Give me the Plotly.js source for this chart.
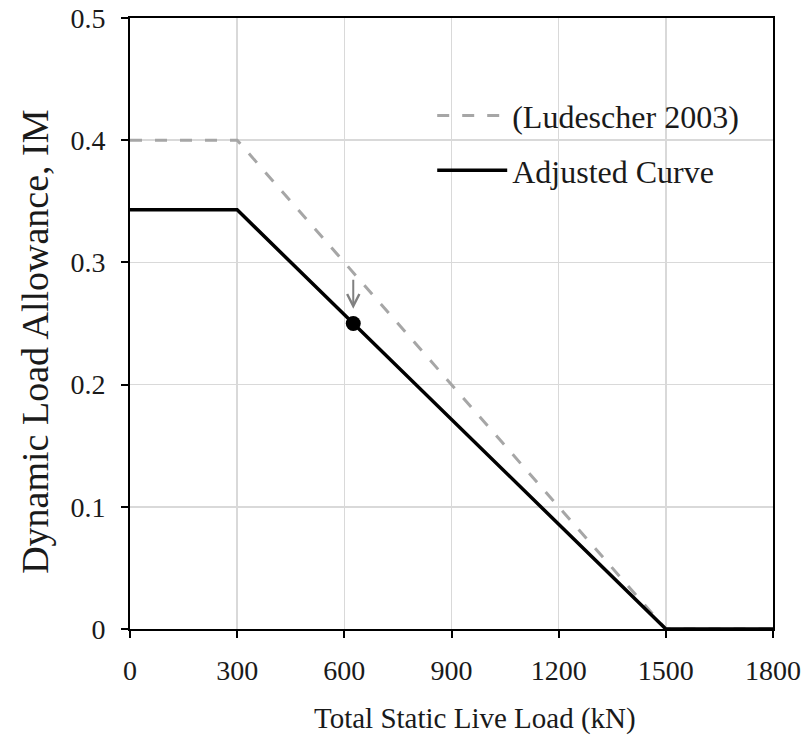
<!DOCTYPE html>
<html>
<head>
<meta charset="utf-8">
<script src="https://cdn.plot.ly/plotly-3.0.1.min.js"></script>
<style>html,body{margin:0;padding:0;background:#fff;}#chart{width:808px;height:738px;}</style>
</head>
<body>
<div id="chart"></div>
<script>
// Data
const ludescherX = [0, 300, 1500, 1800];
const ludescherY = [0.4, 0.4, 0, 0];
const adjustedX = [0, 300, 1500, 1800];
const adjustedY = [0.343, 0.343, 0, 0];
const pointX = [625];
const pointY = [0.25];
const arrowFromY = 0.287;
const arrowToY = 0.262;
const xTicks = [0, 300, 600, 900, 1200, 1500, 1800];
const yTicks = [0, 0.1, 0.2, 0.3, 0.4, 0.5];
const yTickLabels = ['0', '0.1', '0.2', '0.3', '0.4', '0.5'];
const xTitle = 'Total Static Live Load (kN)';
const yTitle = 'Dynamic Load Allowance, IM';

const font = 'Liberation Serif, Times New Roman, serif';

const traces = [
  {x: ludescherX, y: ludescherY, mode: 'lines', name: '(Ludescher 2003)', legendgroup: 'a',
   line: {color: '#a6a6a6', width: 3, dash: '12px,13px'}},
  {x: adjustedX, y: adjustedY, mode: 'lines', name: 'Adjusted Curve', legendgroup: 'b',
   line: {color: '#000000', width: 3.5}},
  {x: pointX, y: pointY, mode: 'markers', showlegend: false,
   marker: {color: '#000000', size: 15}}
];

const layout = {
  width: 808, height: 738,
  margin: {l: 130, r: 35, t: 18, b: 109},
  paper_bgcolor: '#fff', plot_bgcolor: '#fff',
  font: {family: font, color: '#1a1a1a', size: 28},
  showlegend: true,
  legend: {x: 0.47, y: 0.885, xanchor: 'left', yanchor: 'top',
    font: {family: font, size: 32, color: '#1a1a1a'}, bgcolor: 'rgba(0,0,0,0)',
    tracegroupgap: 10, itemwidth: 70},
  xaxis: {range: [0, 1800], tickvals: xTicks, ticktext: xTicks.map(String),
    showgrid: true, gridcolor: '#d9d9d9', gridwidth: 1.5,
    showline: true, linecolor: '#000', linewidth: 2, mirror: true,
    ticks: 'outside', ticklen: 7, tickwidth: 2, tickcolor: '#000',
    ticklabelstandoff: 8,
    zeroline: false, tickfont: {size: 28, family: font}},
  yaxis: {range: [0, 0.5], tickvals: yTicks, ticktext: yTickLabels,
    showgrid: true, gridcolor: '#d9d9d9', gridwidth: 1.5,
    showline: true, linecolor: '#000', linewidth: 2, mirror: true,
    ticks: 'outside', ticklen: 7, tickwidth: 2, tickcolor: '#000',
    ticklabelstandoff: 10,
    zeroline: false, tickfont: {size: 28, family: font}},
  annotations: [
    {x: pointX[0], y: arrowToY, ax: pointX[0], ay: arrowFromY,
     xref: 'x', yref: 'y', axref: 'x', ayref: 'y',
     showarrow: true, arrowhead: 5, arrowsize: 1.2, arrowwidth: 2, arrowcolor: '#808080', text: ''},
    {text: xTitle, xref: 'paper', yref: 'paper', x: 0.5365, y: 0, xanchor: 'center', yanchor: 'middle',
     yshift: -89, showarrow: false, font: {size: 29, family: font, color: '#1a1a1a'}},
    {text: yTitle, xref: 'paper', yref: 'paper', x: 0, y: 0.47, xanchor: 'center', yanchor: 'middle',
     xshift: -95, textangle: -90, showarrow: false, font: {size: 38, family: font, color: '#1a1a1a'}}
  ]
};

Plotly.newPlot('chart', traces, layout, {displayModeBar: false, staticPlot: true});
</script>
</body>
</html>
